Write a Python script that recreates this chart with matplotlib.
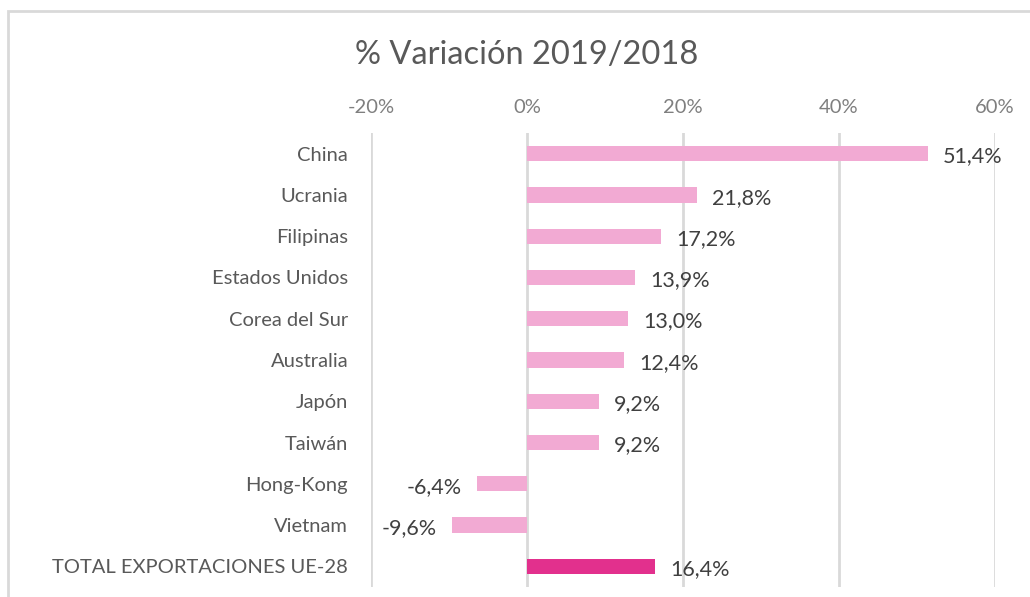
import matplotlib
matplotlib.use("Agg")
import matplotlib.pyplot as plt
from matplotlib.patches import Rectangle

categories = ["China", "Ucrania", "Filipinas", "Estados Unidos", "Corea del Sur",
              "Australia", "Japón", "Taiwán", "Hong-Kong", "Vietnam",
              "TOTAL EXPORTACIONES UE-28"]
values = [51.4, 21.8, 17.2, 13.9, 13.0, 12.4, 9.2, 9.2, -6.4, -9.6, 16.4]
value_labels = ["51,4%", "21,8%", "17,2%", "13,9%", "13,0%", "12,4%", "9,2%",
                "9,2%", "-6,4%", "-9,6%", "16,4%"]
tick_values = [-20, 0, 20, 40, 60]
tick_labels = ["-20%", "0%", "20%", "40%", "60%"]
title = "% Variación 2019/2018"

light = "#F2AAD3"
dark = "#E2308D"
colors = [light] * 10 + [dark]

plt.rcParams['font.family'] = ['Lato', 'DejaVu Sans']

fig = plt.figure(figsize=(10.30, 5.97), dpi=100)
ax = fig.add_axes([371/1030, 1 - 587/597, (995-371)/1030, (587-133)/597])

y = list(range(len(categories)))
ax.barh(y, values, height=0.37, color=colors, zorder=3)
ax.set_ylim(len(categories) - 0.5, -0.5)
ax.set_xlim(-20, 60)
ax.set_xticks(tick_values)
ax.set_xticklabels(tick_labels)
ax.xaxis.tick_top()
ax.tick_params(axis='x', length=0, pad=12, labelsize=14.5, labelcolor="#7F7F7F")
ax.set_yticks(y)
ax.set_yticklabels(categories)
ax.tick_params(axis='y', length=0, pad=16.5, labelsize=14.5, labelcolor="#595959")
for s in ax.spines.values():
    s.set_visible(False)
ax.grid(axis='x', color="#D9D9D9", linewidth=2, zorder=0)

for yi, v, lab in zip(y, values, value_labels):
    if v >= 0:
        ax.annotate(lab, (v, yi), xytext=(11, -2), textcoords='offset points',
                    ha='left', va='center', fontsize=15.5, color="#404040")
    else:
        ax.annotate(lab, (v, yi), xytext=(-11, -2), textcoords='offset points',
                    ha='right', va='center', fontsize=15.5, color="#404040")

fig.text(527/1030, 1 - 55/597, title, ha='center', va='center', fontsize=23.5, color="#595959")

fig.patches.append(Rectangle((8/1030, -0.1), 1.2, 1 - 11/597 + 0.1, transform=fig.transFigure,
                             fill=False, edgecolor="#D9D9D9", linewidth=2))

fig.savefig("out.png", dpi=100)
